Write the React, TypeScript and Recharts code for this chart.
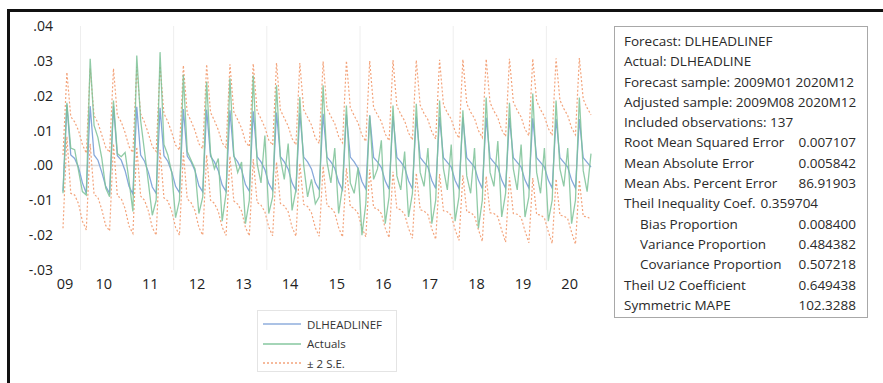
import React from "react";
import { LineChart, Line, XAxis, YAxis, ReferenceLine } from "recharts";

// monthly observations 2009M08 .. 2020M12 (137 points)
const yearLabels = ["09", "10", "11", "12", "13", "14", "15", "16", "17", "18", "19", "20"];
const yTicks = [-0.03, -0.02, -0.01, 0, 0.01, 0.02, 0.03, 0.04];

const forecast = [
  -0.0075,
  0.0175, 0.003, 0.002, -0.0005, -0.005, -0.008,
  0.017, 0.003, 0.0015, -0.002, -0.006, -0.008,
  0.017, 0.0028, 0.0015, -0.0015, -0.006, -0.0082,
  0.0168, 0.003, 0.0012, -0.002, -0.0062, -0.008,
  0.0165, 0.0028, 0.0012, -0.0018, -0.006, -0.0078,
  0.0162, 0.0027, 0.001, -0.0015, -0.0058, -0.0076,
  0.016, 0.0026, 0.001, -0.0015, -0.0056, -0.0075,
  0.0158, 0.0026, 0.001, -0.0012, -0.0055, -0.0074,
  0.0155, 0.0025, 0.001, -0.0012, -0.0052, -0.0072,
  0.0152, 0.0025, 0.001, -0.001, -0.005, -0.0072,
  0.015, 0.0024, 0.001, -0.001, -0.005, -0.007,
  0.0148, 0.0024, 0.001, -0.0008, -0.0048, -0.007,
  0.0146, 0.0024, 0.001, -0.0008, -0.0046, -0.0068,
  0.0144, 0.0023, 0.001, -0.0006, -0.0045, -0.0068,
  0.0142, 0.0023, 0.001, -0.0006, -0.0044, -0.0067,
  0.014, 0.0023, 0.0009, -0.0005, -0.0043, -0.0066,
  0.0139, 0.0022, 0.0009, -0.0005, -0.0043, -0.0066,
  0.0138, 0.0022, 0.0009, -0.0005, -0.0042, -0.0066,
  0.0137, 0.0022, 0.0009, -0.0005, -0.0042, -0.0065,
  0.0136, 0.0022, 0.0009, -0.0005, -0.0042, -0.0065,
  0.0135, 0.0022, 0.0009, -0.0005, -0.0042, -0.0065,
  0.0134, 0.0022, 0.0009, -0.0005, -0.0042, -0.0065,
  0.0133, 0.0022, 0.0009, -0.0005,
];

const actuals = [
  -0.008,
  0.018, 0.005, 0.0045, -0.0015, -0.0075, -0.0085,
  0.0306, 0.0115, 0.008, 0.002, -0.0065, -0.009,
  0.0186, 0.0034, 0.0025, 0.0037, -0.0043, -0.0132,
  0.0315, 0.0129, 0.004, -0.005, -0.0143, -0.01,
  0.0325, 0.006, 0.003, -0.002, -0.015, -0.01,
  0.026, 0.004, 0.0015, -0.001, -0.0138, -0.009,
  0.024, 0.0035, -0.001, 0.002, -0.016, -0.008,
  0.025, 0.003, -0.002, 0.001, -0.0167, -0.01,
  0.0258, 0.0005, -0.005, 0.0086, -0.0138, -0.009,
  0.023, 0.002, -0.004, 0.0063, -0.0129, -0.007,
  0.0196, 0.0, -0.009, -0.004, -0.011, -0.009,
  0.023, 0.001, -0.005, 0.005, -0.0138, -0.006,
  0.0172, -0.005, -0.008, -0.0006, -0.02, -0.011,
  0.0143, -0.004, -0.001, 0.0072, -0.0167, -0.009,
  0.0172, -0.003, -0.007, 0.004, -0.0148, -0.008,
  0.0177, -0.002, -0.006, 0.005, -0.0167, -0.01,
  0.0186, -0.001, -0.007, 0.006, -0.016, -0.009,
  0.0158, -0.003, -0.008, 0.005, -0.018, -0.01,
  0.0195, -0.002, -0.006, 0.007, -0.0148, -0.008,
  0.018, -0.001, -0.007, 0.006, -0.0148, -0.009,
  0.0206, -0.002, -0.008, 0.005, -0.016, -0.01,
  0.0186, -0.001, -0.006, 0.005, -0.0167, -0.01,
  0.0195, -0.0015, -0.0075, 0.0034,
];

const upperBand = [
  0.003,
  0.0267, 0.014, 0.0125, 0.01, 0.006, 0.0035,
  0.0278, 0.0143, 0.0122, 0.0087, 0.0052, 0.0037,
  0.0278, 0.0143, 0.0125, 0.0094, 0.0054, 0.0037,
  0.0283, 0.0148, 0.0124, 0.0091, 0.0054, 0.004,
  0.0285, 0.0149, 0.0126, 0.0095, 0.0058, 0.0044,
  0.0287, 0.015, 0.0127, 0.01, 0.0062, 0.0048,
  0.029, 0.0152, 0.0129, 0.0102, 0.0065, 0.0051,
  0.029, 0.0154, 0.0131, 0.0107, 0.0068, 0.0054,
  0.0292, 0.0156, 0.0134, 0.0109, 0.0073, 0.0058,
  0.0294, 0.0159, 0.0136, 0.0113, 0.0077, 0.0059,
  0.0294, 0.016, 0.0138, 0.0116, 0.0079, 0.0063,
  0.0298, 0.0163, 0.0141, 0.012, 0.0083, 0.0065,
  0.03, 0.0166, 0.0143, 0.0122, 0.0087, 0.0069,
  0.03, 0.0167, 0.0145, 0.0126, 0.009, 0.0071,
  0.0302, 0.017, 0.0147, 0.0128, 0.0093, 0.0073,
  0.0302, 0.0173, 0.0149, 0.0131, 0.0096, 0.0076,
  0.0303, 0.0174, 0.0151, 0.0133, 0.0098, 0.0078,
  0.0304, 0.0177, 0.0153, 0.0135, 0.01, 0.008,
  0.0305, 0.018, 0.0156, 0.0137, 0.0102, 0.0083,
  0.0306, 0.0182, 0.0158, 0.0139, 0.0104, 0.0085,
  0.0306, 0.0185, 0.016, 0.0141, 0.0106, 0.0086,
  0.0307, 0.0187, 0.0163, 0.0143, 0.0108, 0.0088,
  0.0308, 0.019, 0.0165, 0.0145,
];

const lowerBand = [
  -0.018,
  0.0083, -0.008, -0.0085, -0.011, -0.016, -0.0185,
  0.0062, -0.0083, -0.0092, -0.0127, -0.0172, -0.0188,
  0.0062, -0.0087, -0.0095, -0.0124, -0.0174, -0.0195,
  0.0053, -0.0088, -0.01, -0.0131, -0.0178, -0.02,
  0.0045, -0.0093, -0.0102, -0.0131, -0.0178, -0.02,
  0.0037, -0.0096, -0.0107, -0.013, -0.0178, -0.02,
  0.003, -0.01, -0.0109, -0.0132, -0.0177, -0.0201,
  0.0026, -0.0102, -0.0111, -0.0131, -0.0178, -0.0202,
  0.0018, -0.0106, -0.0114, -0.0133, -0.0177, -0.0202,
  0.001, -0.0109, -0.0116, -0.0133, -0.0177, -0.0203,
  0.0006, -0.0112, -0.0118, -0.0136, -0.0179, -0.0203,
  -0.0002, -0.0115, -0.0121, -0.0136, -0.0179, -0.0205,
  -0.0008, -0.0118, -0.0123, -0.0138, -0.0179, -0.0205,
  -0.0012, -0.0121, -0.0125, -0.0138, -0.018, -0.0207,
  -0.0018, -0.0124, -0.0127, -0.014, -0.0181, -0.0209,
  -0.0022, -0.0127, -0.0131, -0.0141, -0.0182, -0.0212,
  -0.0025, -0.013, -0.0133, -0.0143, -0.0184, -0.0215,
  -0.0028, -0.0133, -0.0135, -0.0145, -0.0184, -0.0218,
  -0.0031, -0.0136, -0.0138, -0.0147, -0.0186, -0.022,
  -0.0034, -0.0138, -0.014, -0.0149, -0.0188, -0.0222,
  -0.0036, -0.0141, -0.0142, -0.0151, -0.019, -0.0224,
  -0.0039, -0.0143, -0.0145, -0.0153, -0.0192, -0.0226,
  -0.0042, -0.0146, -0.0147, -0.0155,
];

const headerLines = [
  "Forecast: DLHEADLINEF",
  "Actual: DLHEADLINE",
  "Forecast sample: 2009M01 2020M12",
  "Adjusted sample: 2009M08 2020M12",
  "Included observations: 137",
];
const statNames = [
  "Root Mean Squared Error",
  "Mean Absolute Error",
  "Mean Abs. Percent Error",
  "Theil Inequality Coef.",
  "Bias Proportion",
  "Variance Proportion",
  "Covariance Proportion",
  "Theil U2 Coefficient",
  "Symmetric MAPE",
];
const statValues = ["0.007107", "0.005842", "86.91903", "0.359704", "0.008400", "0.484382", "0.507218", "0.649438", "102.3288"];
const indented = ["Bias Proportion", "Variance Proportion", "Covariance Proportion"];

const legendItems = [
  { name: "DLHEADLINEF", color: "#8faedc", dash: undefined },
  { name: "Actuals", color: "#86c79f", dash: undefined },
  { name: "± 2 S.E.", color: "#f3a47c", dash: "2 2" },
];

const data = forecast.map((f, i) => ({
  t: i,
  forecast: f,
  actual: actuals[i],
  upper: upperBand[i],
  lower: lowerBand[i],
}));

// year label sits mid-year; first (partial) year sits at the start
const yearTickPos = yearLabels.map((_, j) => (j === 0 ? 0.5 : (j - 1) * 12 + 10.5));
const gridPos = [4.5, 28.5, 52.5, 76.5, 100.5, 124.5];

const fmtY = (v: number) => {
  const s = Math.round(Math.abs(v) * 100).toString().padStart(2, "0");
  return (v < -1e-9 ? "-." : ".") + s;
};

const font = "'Open Sans', Lato, sans-serif";

export default function App() {
  return (
    <div style={{ position: "absolute", left: 0, top: 0, width: 883, height: 383, background: "#fff", overflow: "hidden", fontFamily: font }}>
      <div style={{ position: "absolute", left: 7, top: 9, width: 880, height: 3, background: "#111" }} />
      <div style={{ position: "absolute", left: 7, top: 9, width: 3, height: 380, background: "#111" }} />

      <div style={{ position: "absolute", left: 0, top: 0 }}>
        <LineChart width={883} height={383} data={data} margin={{ top: 26, right: 292, bottom: 83, left: 0 }}>
          <XAxis
            dataKey="t"
            type="number"
            domain={[0, 136]}
            ticks={yearTickPos}
            tickFormatter={(v: number) => yearLabels[yearTickPos.indexOf(v)]}
            axisLine={false}
            tickLine={false}
            tickSize={0}
            tickMargin={9}
            height={30}
            interval={0}
            tick={{ fontFamily: font, fontSize: 14.5, fill: "#222" }}
          />
          <YAxis
            type="number"
            domain={[-0.03, 0.04]}
            ticks={yTicks}
            tickFormatter={fmtY}
            axisLine={false}
            tickLine={false}
            tickSize={0}
            tickMargin={10}
            width={63}
            interval={0}
            tick={{ fontFamily: font, fontSize: 14, fill: "#222" }}
          />
          {gridPos.map((g) => (
            <ReferenceLine key={g} x={g} stroke="#eeeeee" strokeWidth={1} />
          ))}
          <ReferenceLine y={0} stroke="#dcdcdc" strokeWidth={1.5} />
          <Line type="linear" dataKey="upper" stroke="#f3a47c" strokeWidth={1.2} strokeDasharray="2 2" dot={false} isAnimationActive={false} />
          <Line type="linear" dataKey="lower" stroke="#f3a47c" strokeWidth={1.2} strokeDasharray="2 2" dot={false} isAnimationActive={false} />
          <Line type="linear" dataKey="forecast" stroke="#86a8da" strokeWidth={1.3} dot={false} isAnimationActive={false} />
          <Line type="linear" dataKey="actual" stroke="#7cc297" strokeOpacity={0.85} strokeWidth={1.3} dot={false} isAnimationActive={false} />
        </LineChart>
      </div>

      <div style={{ position: "absolute", left: 257, top: 310, width: 140, height: 62, border: "1px solid #e4e4e4", boxSizing: "border-box" }}>
        {legendItems.map((it, i) => (
          <div key={it.name} style={{ position: "absolute", left: 5, top: 4 + i * 19.7, height: 18, display: "flex", alignItems: "center" }}>
            <svg width={38} height={4}>
              <line x1={0} y1={2} x2={38} y2={2} stroke={it.color} strokeWidth={1.3} strokeDasharray={it.dash} />
            </svg>
            <span style={{ marginLeft: 6, fontSize: 11.5, color: "#333" }}>{it.name}</span>
          </div>
        ))}
      </div>

      <div style={{ position: "absolute", left: 614, top: 26, width: 254, height: 292, border: "1px solid #a8a8a8", boxSizing: "border-box", padding: "4px 11px 0 9px", fontSize: 13.5, color: "#2a2a2a", lineHeight: "20.3px", whiteSpace: "nowrap" }}>
        {headerLines.map((h) => (
          <div key={h}>{h}</div>
        ))}
        {statNames.map((n, i) =>
          n.startsWith("Theil Inequality") ? (
            <div key={n}>
              {n}
              <span style={{ marginLeft: 5 }}>{statValues[i]}</span>
            </div>
          ) : (
            <div key={n} style={{ display: "flex", justifyContent: "space-between" }}>
              <span style={{ paddingLeft: indented.includes(n) ? 16 : 0 }}>{n}</span>
              <span>{statValues[i]}</span>
            </div>
          )
        )}
      </div>
    </div>
  );
}
